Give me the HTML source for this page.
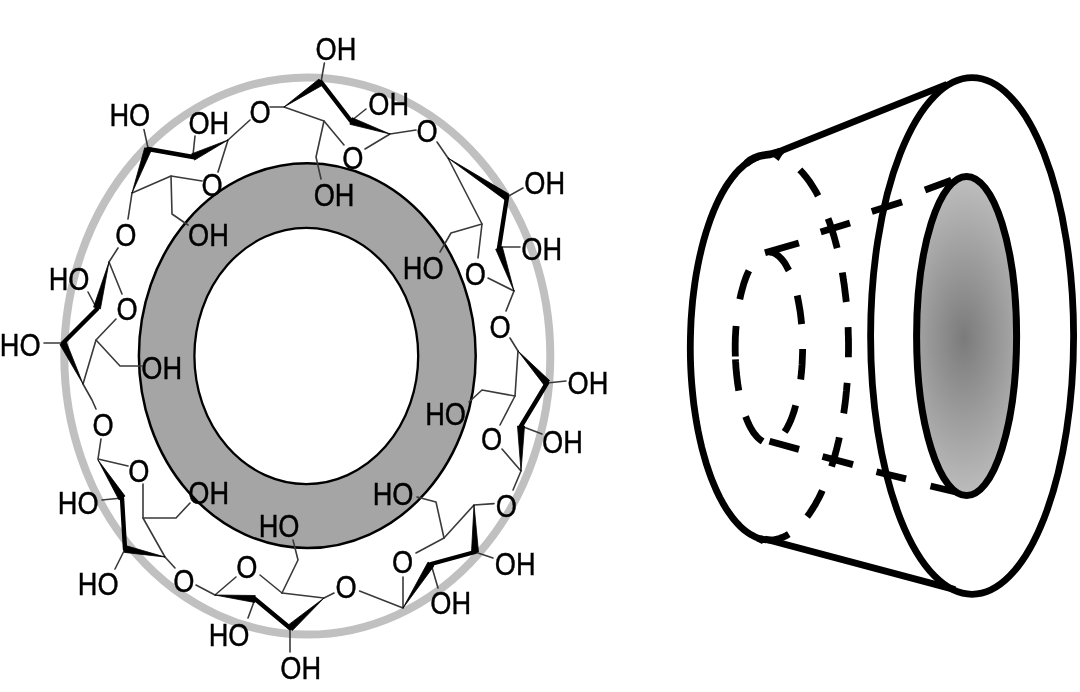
<!DOCTYPE html>
<html><head><meta charset="utf-8"><style>
html,body{margin:0;padding:0;background:#fff;}
svg{display:block;filter:grayscale(1);}
</style></head><body>
<svg width="1080" height="692" viewBox="0 0 1080 692">
<rect width="1080" height="692" fill="#fff"/>
<ellipse cx="307.3" cy="356.0" rx="243.0" ry="278.6" fill="none" stroke="#c0c0c0" stroke-width="8"/>
<ellipse cx="307.3" cy="355.65" rx="168.4" ry="192.45" fill="#a5a5a5" stroke="#000" stroke-width="2.5"/>
<ellipse cx="306.3" cy="355.95" rx="111.9" ry="128.15" fill="#fff" stroke="#000" stroke-width="2.3"/>
<g fill="none" stroke="#3a3a3a" stroke-width="1.6" stroke-linejoin="round" stroke-linecap="round">
<polyline points="144,129.6 148,148"/>
<polyline points="193,155 195,136"/>
<polyline points="228,140 250,120"/>
<polyline points="228,140 218,172"/>
<polyline points="132,193 171,176 202,181"/>
<polyline points="171,176 172,214 188,225"/>
<polyline points="132,193 128,219"/>
<polyline points="324.4,63 321,82"/>
<polyline points="270,107 284,107"/>
<polyline points="351,121 366,109"/>
<polyline points="390,134 416,130"/>
<polyline points="390,134 365,149"/>
<polyline points="284,107 324,121 344,145"/>
<polyline points="324,121 316,157 321,179"/>
<polyline points="437,142 448,158"/>
<polyline points="507,197 523,188"/>
<polyline points="499,247 520,247"/>
<polyline points="448,158 482,224 451,233 440,252"/>
<polyline points="482,224 478,258"/>
<polyline points="488,278 514,291"/>
<polyline points="514,291 506,311"/>
<polyline points="510,338 518,351"/>
<polyline points="547,383 566,381"/>
<polyline points="521,426 542,434"/>
<polyline points="518,351 515,396 482,390 469,402"/>
<polyline points="515,396 500,425"/>
<polyline points="502,449 521,471"/>
<polyline points="521,471 513,490"/>
<polyline points="494,503.6 474,505"/>
<polyline points="475,552 493,558"/>
<polyline points="431,564 438,588"/>
<polyline points="417,497 436,502 444,538"/>
<polyline points="444,538 474,505"/>
<polyline points="444,538 416,553"/>
<polyline points="403,577 403,608"/>
<polyline points="359.6,591 403,608"/>
<polyline points="334,593 324,598"/>
<polyline points="290,628 290,652"/>
<polyline points="324,598 282,593"/>
<polyline points="282,593 298,560 293,540"/>
<polyline points="282,593 260,575"/>
<polyline points="196,585 215,595"/>
<polyline points="215,595 236,577"/>
<polyline points="255,599 248,618"/>
<polyline points="125,549 115,569"/>
<polyline points="122,498 102,500"/>
<polyline points="101,439 98,459"/>
<polyline points="98,459 128,466"/>
<polyline points="165,557 175,568"/>
<polyline points="165,557 143,518 143,484"/>
<polyline points="143,518 176,518 190,503"/>
<polyline points="97,309 88,292"/>
<polyline points="63,343 44,343"/>
<polyline points="83,384 96,340 116,319"/>
<polyline points="96,340 120,366 142,366"/>
<polyline points="83,384 92,400 96,409"/>
<polyline points="109,262 122,294"/>
<polyline points="118,248 109,262"/>
</g>
<g fill="none" stroke="#000" stroke-width="4.4" stroke-linecap="round">
<polyline points="148,149 193,157"/>
<polyline points="321,82 351,121"/>
<polyline points="507,197 499,248"/>
<polyline points="547,383 521,426"/>
<polyline points="475,552 431,564"/>
<polyline points="255,599 290,628"/>
<polyline points="125,549 122,498"/>
<polyline points="97,309 63,343"/>
</g>
<g fill="#000" stroke="#000" stroke-width="0.8" stroke-linejoin="round">
<polygon points="228.0,140.0 191.5,153.9 194.5,160.1"/>
<polygon points="132.0,193.0 151.3,150.2 144.7,147.8"/>
<polygon points="284.0,107.0 323.0,84.9 319.0,79.1"/>
<polygon points="390.0,134.0 352.1,117.7 349.9,124.3"/>
<polygon points="448.0,158.0 505.1,199.9 508.9,194.1"/>
<polygon points="514.0,291.0 502.3,246.8 495.7,249.2"/>
<polygon points="518.0,351.0 544.4,385.4 549.6,380.6"/>
<polygon points="521.0,471.0 524.5,426.0 517.5,426.0"/>
<polygon points="474.0,505.0 471.5,552.1 478.5,551.9"/>
<polygon points="403.0,608.0 434.0,565.9 428.0,562.1"/>
<polygon points="324.0,598.0 287.7,625.4 292.3,630.6"/>
<polygon points="215.0,595.0 254.7,602.5 255.3,595.5"/>
<polygon points="165.0,557.0 125.7,545.6 124.3,552.4"/>
<polygon points="98.0,460.0 119.0,499.9 125.0,496.1"/>
<polygon points="109.0,262.0 93.6,307.1 100.4,308.9"/>
<polygon points="83.0,384.0 66.1,341.5 59.9,344.5"/>
</g>
<g font-family="Liberation Sans, sans-serif" font-size="32.00" fill="#000" stroke="#000" stroke-width="0.45">
<text transform="translate(315.56,59.51) scale(0.85,1)">OH</text>
<text transform="translate(368.26,114.51) scale(0.85,1)">OH</text>
<text transform="translate(109.44,126.11) scale(0.85,1)">HO</text>
<text transform="translate(188.46,133.51) scale(0.85,1)">OH</text>
<text transform="translate(249.43,123.26) scale(0.85,1)">O</text>
<text transform="translate(416.38,142.26) scale(0.85,1)">O</text>
<text transform="translate(342.23,168.71) scale(0.85,1)">O</text>
<text transform="translate(313.66,205.51) scale(0.85,1)">OH</text>
<text transform="translate(201.38,195.81) scale(0.85,1)">O</text>
<text transform="translate(524.36,194.21) scale(0.85,1)">OH</text>
<text transform="translate(188.06,245.51) scale(0.85,1)">OH</text>
<text transform="translate(115.23,245.81) scale(0.85,1)">O</text>
<text transform="translate(521.26,259.51) scale(0.85,1)">OH</text>
<text transform="translate(402.84,278.81) scale(0.85,1)">HO</text>
<text transform="translate(464.63,284.51) scale(0.85,1)">O</text>
<text transform="translate(48.64,290.11) scale(0.85,1)">HO</text>
<text transform="translate(116.43,319.81) scale(0.85,1)">O</text>
<text transform="translate(489.43,337.71) scale(0.85,1)">O</text>
<text transform="translate(-0.16,355.81) scale(0.85,1)">HO</text>
<text transform="translate(141.36,378.81) scale(0.85,1)">OH</text>
<text transform="translate(567.56,393.71) scale(0.85,1)">OH</text>
<text transform="translate(425.14,425.31) scale(0.85,1)">HO</text>
<text transform="translate(92.43,435.81) scale(0.85,1)">O</text>
<text transform="translate(480.93,450.01) scale(0.85,1)">O</text>
<text transform="translate(542.06,453.31) scale(0.85,1)">OH</text>
<text transform="translate(128.23,481.51) scale(0.85,1)">O</text>
<text transform="translate(188.36,503.81) scale(0.85,1)">OH</text>
<text transform="translate(372.64,504.91) scale(0.85,1)">HO</text>
<text transform="translate(57.84,513.51) scale(0.85,1)">HO</text>
<text transform="translate(495.73,516.51) scale(0.85,1)">O</text>
<text transform="translate(258.64,536.51) scale(0.85,1)">HO</text>
<text transform="translate(391.93,572.51) scale(0.85,1)">O</text>
<text transform="translate(494.86,575.01) scale(0.85,1)">OH</text>
<text transform="translate(236.23,578.26) scale(0.85,1)">O</text>
<text transform="translate(77.84,594.51) scale(0.85,1)">HO</text>
<text transform="translate(173.28,591.91) scale(0.85,1)">O</text>
<text transform="translate(335.53,598.31) scale(0.85,1)">O</text>
<text transform="translate(430.36,614.31) scale(0.85,1)">OH</text>
<text transform="translate(208.64,645.81) scale(0.85,1)">HO</text>
<text transform="translate(280.36,678.51) scale(0.85,1)">OH</text>
</g>

<defs>
<radialGradient id="hole" cx="964" cy="338" r="170" gradientUnits="userSpaceOnUse" gradientTransform="translate(964 338) scale(0.5 1) translate(-964 -338)">
<stop offset="0" stop-color="#7b7b7b"/><stop offset="1" stop-color="#c2c2c2"/>
</radialGradient>
</defs>
<g fill="none" stroke="#000" stroke-width="6.8" stroke-linecap="butt" stroke-linejoin="round">
<path d="M758.4,156.9 L754.5,158.4 L750.7,160.5 L746.9,162.9 L743.2,165.9 L739.6,169.2 L736.0,173.0 L732.5,177.3 L729.1,181.9 L725.7,187.0 L722.5,192.4 L719.4,198.3 L716.5,204.4 L713.6,211.0 L710.9,217.9 L708.4,225.1 L706.0,232.5 L703.7,240.3 L701.6,248.4 L699.7,256.6 L697.9,265.1 L696.3,273.8 L694.9,282.7 L693.7,291.8 L692.6,300.9 L691.8,310.2 L691.1,319.6 L690.7,329.0 L690.4,338.5 L690.3,348.1 L690.4,357.6 L690.7,367.1 L691.2,376.5 L691.9,385.9 L692.8,395.2 L693.8,404.3 L695.1,413.3 L696.5,422.2 L698.1,430.9 L699.9,439.4 L701.8,447.6 L704.0,455.6 L706.2,463.3 L708.7,470.8 L711.2,478.0 L714.0,484.8 L716.8,491.3 L719.8,497.5 L722.9,503.2 L726.1,508.6 L729.5,513.6 L732.9,518.2 L736.4,522.4 L740.0,526.2 L743.6,529.5 L747.4,532.4 L751.2,534.8 L755.0,536.8 L758.8,538.3 L762.7,539.3 L766.6,539.9"/>
<line x1="776" y1="152.8" x2="947" y2="84.3"/>
<path d="M747.5,162.5 C752,158 760,155.2 770,154.4 L780,151.8" stroke-width="7.6" stroke-linecap="round"/>
<line x1="765" y1="539" x2="955" y2="589.6"/>
<ellipse cx="972.1" cy="336" rx="101.5" ry="258.3"/>
</g>
<g fill="none" stroke="#000" stroke-width="6.8" stroke-linecap="butt">
<path d="M769.6,252.0 L771.3,252.3 L773.1,252.7 L774.8,253.5 L776.4,254.4 L778.1,255.6 L779.7,257.1 L781.4,258.8 L782.9,260.7 L784.5,262.8 L786.0,265.2 L787.4,267.8 L788.9,270.5"/>
<path d="M797.2,295.5 L797.7,297.7 L798.1,300.0 L798.6,302.3 L799.0,304.6 L799.4,307.0 L799.8,309.3 L800.2,311.8 L800.5,314.2 L800.8,316.7 L801.1,319.2 L801.3,321.7 L801.6,324.2"/>
<path d="M802.6,349.0 L802.6,351.6 L802.5,354.2 L802.4,356.8 L802.3,359.3 L802.2,361.9 L802.1,364.4 L801.9,367.0 L801.7,369.5 L801.5,372.0 L801.2,374.5 L801.0,377.0 L800.7,379.5"/>
<path d="M795.7,405.4 L794.9,408.1 L794.2,410.7 L793.3,413.3 L792.5,415.7 L791.6,418.1 L790.7,420.4 L789.7,422.6 L788.8,424.6 L787.8,426.6 L786.8,428.5 L785.7,430.3 L784.6,431.9"/>
<path d="M748.9,270.7 L748.0,272.6 L747.1,274.7 L746.2,276.8 L745.4,279.0 L744.6,281.3 L743.8,283.6 L743.1,286.1 L742.4,288.6 L741.7,291.1 L741.0,293.8 L740.4,296.5 L739.8,299.2"/>
<path d="M736.1,326.1 L735.9,328.6 L735.7,331.1 L735.6,333.6 L735.4,336.1 L735.3,338.6 L735.3,341.2 L735.2,343.7 L735.2,346.3 L735.2,348.8 L735.2,351.3 L735.3,353.9 L735.3,356.4"/>
<path d="M735.5,359.3 L735.6,362.0 L735.8,364.7 L735.9,367.4 L736.2,370.1 L736.4,372.7 L736.7,375.4 L737.0,378.0 L737.3,380.5 L737.6,383.1 L738.0,385.6 L738.4,388.1 L738.8,390.6"/>
<path d="M745.6,416.5 L746.8,419.6 L748.0,422.5 L749.3,425.3 L750.7,427.9 L752.1,430.3 L753.5,432.5 L755.0,434.5 L756.5,436.3 L758.0,437.9 L759.5,439.2 L761.1,440.4 L762.7,441.4"/>
<path d="M799.8,169.8 L801.4,171.5 L803.0,173.3 L804.6,175.2 L806.2,177.1 L807.8,179.2 L809.3,181.3 L810.8,183.5 L812.3,185.8 L813.8,188.2 L815.3,190.7 L816.7,193.2 L818.1,195.9"/>
<path d="M828.1,218.6 L829.0,220.9 L829.8,223.2 L830.6,225.6 L831.4,228.0 L832.2,230.4 L832.9,232.9 L833.7,235.3 L834.4,237.9 L835.1,240.4 L835.8,243.0 L836.5,245.6 L837.2,248.2"/>
<path d="M842.3,272.5 L842.7,274.9 L843.1,277.3 L843.4,279.8 L843.8,282.2 L844.2,284.6 L844.5,287.1 L844.8,289.6 L845.1,292.0 L845.4,294.5 L845.7,297.0 L846.0,299.5 L846.3,302.0"/>
<path d="M848.1,327.1 L848.2,329.6 L848.2,332.1 L848.3,334.6 L848.4,337.2 L848.4,339.7 L848.5,342.2 L848.5,344.7 L848.5,347.2 L848.5,349.7 L848.5,352.3 L848.4,354.8 L848.4,357.3"/>
<path d="M847.2,382.9 L846.9,385.5 L846.7,388.0 L846.5,390.6 L846.2,393.2 L846.0,395.7 L845.7,398.3 L845.4,400.8 L845.1,403.4 L844.8,405.9 L844.4,408.4 L844.1,410.9 L843.7,413.4"/>
<path d="M839.3,437.4 L838.8,440.0 L838.2,442.5 L837.6,445.0 L837.0,447.5 L836.4,449.9 L835.7,452.4 L835.1,454.8 L834.4,457.2 L833.7,459.5 L833.0,461.9 L832.3,464.2 L831.6,466.5"/>
<path d="M822.3,490.5 L821.2,493.0 L820.0,495.5 L818.8,497.9 L817.6,500.2 L816.3,502.4 L815.1,504.7 L813.8,506.8 L812.5,508.9 L811.2,510.9 L809.9,512.9 L808.6,514.8 L807.2,516.6"/>
<path d="M788.8,534.1 L786.5,535.5 L784.2,536.6 L781.8,537.6 L779.4,538.4 L777.1,539.1 L774.7,539.6 L772.3,539.9 L769.9,540.0 L767.5,539.9 L765.2,539.7 L762.8,539.3 L760.4,538.8"/>
<path d="M765,252.8 L798.9,243"/>
<path d="M820.7,231.9 L850,222.9"/>
<path d="M871.8,211.6 L902,202"/>
<path d="M925,190 L951.4,180.2"/>
<path d="M769.5,441.2 L799,449.4"/>
<path d="M822.5,456.5 L853,464.6"/>
<path d="M876.5,471.8 L906,478.9"/>
<path d="M930.5,486 L960,493"/>
</g>
<ellipse cx="966.6" cy="336" rx="50" ry="159.6" fill="url(#hole)" stroke="#000" stroke-width="7"/>
<polygon points="773.5,157 782.5,154.5 778.6,161" fill="#000"/>
<polygon points="756,541 766,538 762,544" fill="#000"/>

</svg>
</body></html>
